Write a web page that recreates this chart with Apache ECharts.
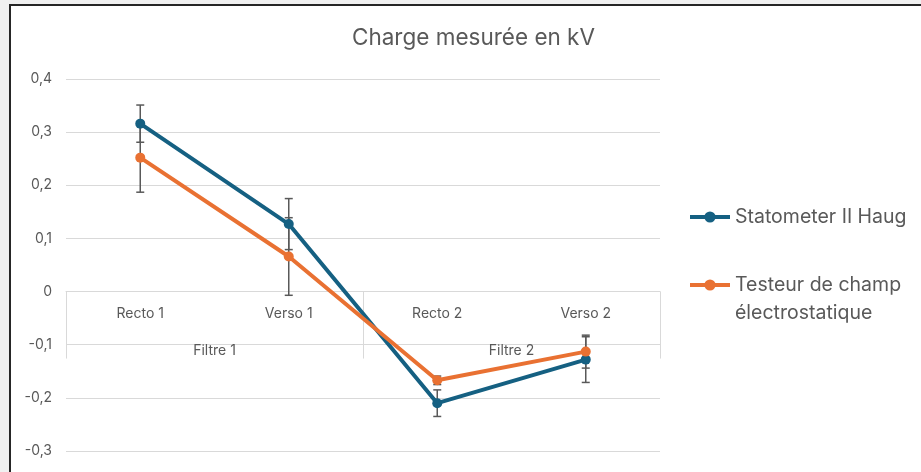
<!DOCTYPE html>
<html>
<head>
<meta charset="utf-8">
<script src="https://cdn.jsdelivr.net/npm/echarts@6/dist/echarts.min.js"></script>
<style>
    html, body { margin: 0; padding: 0; background: #f0f0f0; }
    #frame {
        position: absolute; left: 9px; top: 4px; width: 912px; height: 468px;
        background: #ffffff; border-left: 2px solid #262626; border-top: 2px solid #262626;
    }
    #main { position: absolute; left: 0; top: 0; width: 921px; height: 472px; }
</style>
</head>
<body>
<div id="frame"></div>
<div id="main"></div>
<script>
// data
let categories = ['Recto 1', 'Verso 1', 'Recto 2', 'Verso 2'];
let groups = ['Filtre 1', 'Filtre 2'];
let statometerName = 'Statometer II Haug';
let statometer = [0.316, 0.127, -0.210, -0.128];
let statometerErr = [0.035, 0.048, 0.025, 0.043];
let testeurName = 'Testeur de champ électrostatique';
let testeur = [0.252, 0.066, -0.167, -0.113];
let testeurErr = [0.065, 0.073, 0.008, 0.031];
let yMin = -0.3;
let yMax = 0.4;
let yStep = 0.1;

const colors = {
    blue: '#156082',
    orange: '#e97132',
    text: '#595959',
    grid: '#d9d9d9',
    err: '#595959'
};
const font = 'Inter';

// grid box in pixels, x axis sits on the zero line
const gridBox = { left: 66, right: 261, top: 79, bottom: 21 };
const gridHeight = 472 - gridBox.top - gridBox.bottom;
const zeroShift = -(gridHeight * (0 - yMin) / (yMax - yMin));

function errData(values, errs) {
    return values.map((v, i) => [i, v - errs[i], v + errs[i]]);
}

function renderErr(params, api) {
    let lo = api.coord([api.value(0), api.value(1)]);
    let hi = api.coord([api.value(0), api.value(2)]);
    let w = 4;
    let style = { stroke: colors.err, lineWidth: 1.5 };
    return {
        type: 'group',
        children: [
            { type: 'line', shape: { x1: lo[0], y1: lo[1], x2: hi[0], y2: hi[1] }, style: style },
            { type: 'line', shape: { x1: lo[0] - w, y1: lo[1], x2: lo[0] + w, y2: lo[1] }, style: style },
            { type: 'line', shape: { x1: hi[0] - w, y1: hi[1], x2: hi[0] + w, y2: hi[1] }, style: style }
        ]
    };
}

const option = {
    animation: false,
    title: {
        text: 'Charge mesurée en kV',
        left: 347,
        top: 22,
        textStyle: { fontFamily: font, fontSize: 22.5, fontWeight: 'normal', color: colors.text }
    },
    legend: {
        orient: 'vertical',
        left: 683,
        top: 198,
        itemWidth: 40,
        itemHeight: 14,
        itemGap: 12,
        lineStyle: { width: 4 },
        textStyle: { fontFamily: font, fontSize: 19.5, lineHeight: 28, color: colors.text, width: 185, overflow: 'break' },
        // blank first line keeps the icon level with the first text line
        formatter: name => name === testeurName ? '\n' + name.replace(' électro', '\nélectro') : name,
        data: [statometerName, testeurName]
    },
    grid: gridBox,
    xAxis: [
        {
            type: 'category',
            position: 'bottom',
            offset: zeroShift,
            data: categories,
            axisLine: { onZero: false, lineStyle: { color: colors.grid, width: 1 } },
            axisTick: { show: false },
            axisLabel: { margin: 15, fontFamily: font, fontSize: 14, color: colors.text },
            splitLine: { show: false }
        },
        {
            type: 'category',
            position: 'bottom',
            offset: zeroShift,
            data: groups,
            axisLine: { show: false, onZero: false },
            axisTick: { show: true, length: 67, lineStyle: { color: colors.grid, width: 1 } },
            axisLabel: { margin: 52, fontFamily: font, fontSize: 14, color: colors.text },
            splitLine: { show: false }
        }
    ],
    yAxis: {
        type: 'value',
        min: yMin,
        max: yMax,
        interval: yStep,
        axisLine: { show: false },
        axisTick: { show: false },
        axisLabel: {
            margin: 14,
            fontFamily: font,
            fontSize: 14,
            color: colors.text,
            formatter: v => Math.abs(v) < 1e-9 ? '0' : v.toFixed(1).replace('.', ',')
        },
        splitLine: { lineStyle: { color: colors.grid, width: 1 } }
    },
    series: [
        {
            name: statometerName,
            type: 'line',
            data: statometer,
            color: colors.blue,
            symbol: 'circle',
            symbolSize: 10,
            lineStyle: { width: 4 },
            z: 3
        },
        {
            name: testeurName,
            type: 'line',
            data: testeur,
            color: colors.orange,
            symbol: 'circle',
            symbolSize: 10,
            lineStyle: { width: 4 },
            z: 3
        },
        {
            type: 'custom',
            name: 'err1',
            data: errData(statometer, statometerErr),
            renderItem: renderErr,
            z: 2
        },
        {
            type: 'custom',
            name: 'err2',
            data: errData(testeur, testeurErr),
            renderItem: renderErr,
            z: 2
        }
    ]
};

let plot = echarts.init(document.querySelector('#main'));
plot.setOption(option);
</script>
</body>
</html>
